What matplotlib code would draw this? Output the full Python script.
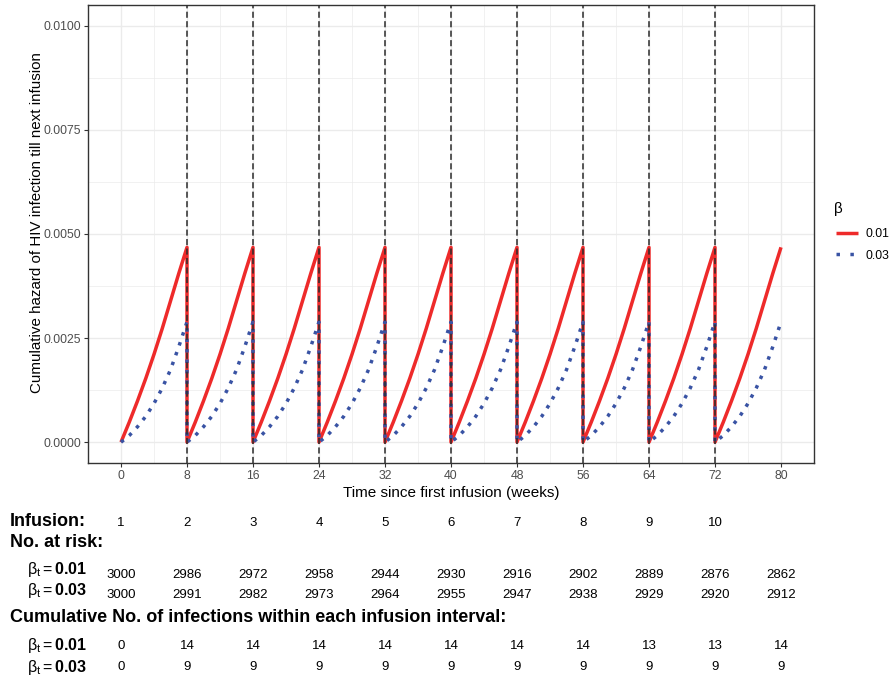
import numpy as np
import matplotlib
matplotlib.use('Agg')
import matplotlib.pyplot as plt
from matplotlib.lines import Line2D
from matplotlib.transforms import blended_transform_factory

plt.rcParams['font.family'] = ['Liberation Sans', 'DejaVu Sans']
plt.rcParams['mathtext.fontset'] = 'custom'
plt.rcParams['mathtext.rm'] = 'Liberation Sans'
plt.rcParams['mathtext.it'] = 'Liberation Sans:italic'
plt.rcParams['mathtext.bf'] = 'Liberation Sans:bold'

# cumulative hazard within one 8-week infusion interval, read per week
weeks_in_cycle = [0, 1, 2, 3, 4, 5, 6, 7, 8]
hazard_b001 = [0, 0.00048, 0.00099, 0.00153, 0.00211, 0.00273, 0.00339, 0.00405, 0.00468]
hazard_b003 = [0, 0.00016, 0.00037, 0.00062, 0.00093, 0.00130, 0.00174, 0.00229, 0.00289]
n_cycles = 10
infusion_weeks = [0, 8, 16, 24, 32, 40, 48, 56, 64, 72]
infusion_no = [1, 2, 3, 4, 5, 6, 7, 8, 9, 10]
table_weeks = [0, 8, 16, 24, 32, 40, 48, 56, 64, 72, 80]
risk_b001 = [3000, 2986, 2972, 2958, 2944, 2930, 2916, 2902, 2889, 2876, 2862]
risk_b003 = [3000, 2991, 2982, 2973, 2964, 2955, 2947, 2938, 2929, 2920, 2912]
inf_b001 = [0, 14, 14, 14, 14, 14, 14, 14, 13, 13, 14]
inf_b003 = [0, 9, 9, 9, 9, 9, 9, 9, 9, 9, 9]

red = '#EE2A2A'
blue = '#3953A4'

def build(vals):
    xs, ys = [], []
    for k in range(n_cycles):
        xs += [8 * k + w for w in weeks_in_cycle]
        ys += list(vals)
    return xs, ys

W, H = 893, 679
fig = plt.figure(figsize=(W / 100, H / 100), dpi=100)
ax = fig.add_axes([88 / W, 1 - 463 / H, (814 - 88) / W, (463 - 5) / H])

x1, y1 = build(hazard_b001)
x3, y3 = build(hazard_b003)
ax.plot(x1, y1, color=red, lw=2.5, solid_capstyle='butt', zorder=3)
ax.plot(x3, y3, color=blue, lw=2.5, linestyle=(0, (1, 2)), dash_capstyle='butt', zorder=4)
for xv in infusion_weeks[1:]:
    ax.axvline(xv, color='#2B2B2B', lw=1.1, linestyle=(0, (4, 2.2)), zorder=5)

ax.set_xlim(-4, 84)
ax.set_ylim(-0.0005, 0.0105)
ax.set_xticks(table_weeks)
ax.set_xticks(np.arange(4, 84, 8), minor=True)
ax.set_yticks([0, 0.0025, 0.005, 0.0075, 0.01])
ax.set_yticks([0.00125, 0.00375, 0.00625, 0.00875], minor=True)
ax.set_yticklabels(['0.0000', '0.0025', '0.0050', '0.0075', '0.0100'])
ax.grid(which='major', color='#EBEBEB', lw=1.0, zorder=0)
ax.grid(which='minor', color='#EBEBEB', lw=0.5, zorder=0)
ax.set_axisbelow(True)
ax.tick_params(which='major', length=2.75, width=0.8, color='#333333', labelsize=8.8,
               labelcolor='#4D4D4D', pad=2.2)
ax.tick_params(which='minor', length=0)
for sp in ax.spines.values():
    sp.set_color('#333333')
    sp.set_linewidth(1.0)
ax.set_xlabel('Time since first infusion (weeks)', fontsize=11, labelpad=3)
ax.set_ylabel('Cumulative hazard of HIV infection till next infusion', fontsize=10.9)
ax.yaxis.label.set_verticalalignment('center')
ax.yaxis.set_label_coords((37 - 88) / 726, (463 - 223) / 458)

handles = [Line2D([], [], color=red, lw=2.5, solid_capstyle='butt'),
           Line2D([], [], color=blue, lw=2.5, linestyle=(0, (1, 3)), dash_capstyle='butt')]
fig.text(834 / W, 1 - 209 / H, 'β', fontsize=11, va='center', ha='left')
fig.legend(handles, ['0.01', '0.03'], loc='upper left',
           bbox_to_anchor=(831 / W, 1 - 223 / H), frameon=False, fontsize=8.8,
           handlelength=1.8, handletextpad=0.6, labelspacing=0.8, borderaxespad=0)

# risk table below the plot
tr = blended_transform_factory(ax.transData, fig.transFigure)

def fy(p):
    return 1 - p / H

fig.text(10 / W, fy(526), 'Infusion:', fontsize=13, fontweight='bold', va='baseline')
for xv, n in zip(infusion_weeks, infusion_no):
    fig.text(xv, fy(526), str(n), transform=tr, fontsize=9.5, ha='center', va='baseline')

fig.text(10 / W, fy(547), 'No. at risk:', fontsize=13, fontweight='bold', va='baseline')
lab1 = r'$\mathrm{β}_\mathrm{t} = \mathbf{0.01}$'
lab3 = r'$\mathrm{β}_\mathrm{t} = \mathbf{0.03}$'
fig.text(27 / W, fy(574), lab1, fontsize=11.5, va='baseline')
fig.text(27 / W, fy(595), lab3, fontsize=11.5, va='baseline')
for xv, a, b in zip(table_weeks, risk_b001, risk_b003):
    fig.text(xv, fy(578), str(a), transform=tr, fontsize=9.5, ha='center', va='baseline')
    fig.text(xv, fy(598), str(b), transform=tr, fontsize=9.5, ha='center', va='baseline')

fig.text(10 / W, fy(622), 'Cumulative No. of infections within each infusion interval:',
         fontsize=13, fontweight='bold', va='baseline')
fig.text(27 / W, fy(650), lab1, fontsize=11.5, va='baseline')
fig.text(27 / W, fy(672), lab3, fontsize=11.5, va='baseline')
for xv, a, b in zip(table_weeks, inf_b001, inf_b003):
    fig.text(xv, fy(649), str(a), transform=tr, fontsize=9.5, ha='center', va='baseline')
    fig.text(xv, fy(670), str(b), transform=tr, fontsize=9.5, ha='center', va='baseline')

fig.savefig('out.png', dpi=100)
